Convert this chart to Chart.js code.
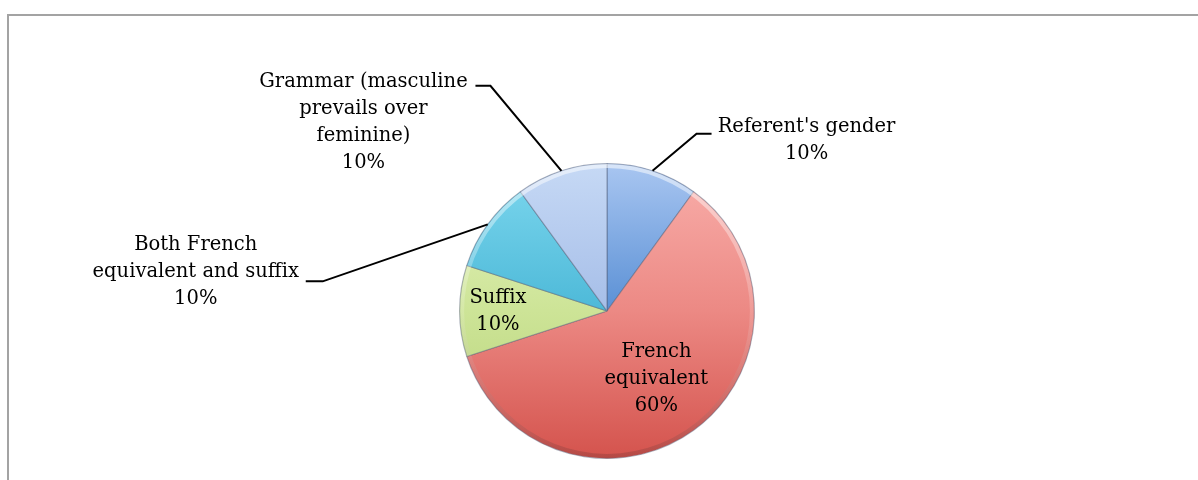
<!DOCTYPE html>
<html>
<head>
<meta charset="utf-8">
<script src="https://cdn.jsdelivr.net/npm/chart.js@4/dist/chart.umd.min.js"></script>
<style>
    body { margin: 0; background: #fff; }
    #wrap { position: relative; width: 1198px; height: 480px; overflow: hidden; }
    #frame {
        position: absolute; left: 7px; top: 14px; width: 1300px; height: 600px;
        border-top: 2px solid #a3a3a3; border-left: 2px solid #a3a3a3;
    }
    canvas { position: absolute; left: 0; top: 0; }
</style>
</head>
<body>
<div id="wrap">
    <div id="frame"></div>
    <canvas id="pieChart" width="1198" height="480"></canvas>
</div>
<script>
// slices, clockwise from 12 o'clock
const categories = [
    "Referent's gender",
    'French equivalent',
    'Suffix',
    'Both French equivalent and suffix',
    'Grammar (masculine prevails over feminine)'
];
const shares = [10, 60, 10, 10, 10];

// how each label wraps
const labelLines = [
    ["Referent's gender"],
    ['French', 'equivalent'],
    ['Suffix'],
    ['Both French', 'equivalent and suffix'],
    ['Grammar (masculine', 'prevails over', 'feminine)']
];

// gradient stops per slice (top of pie -> middle -> bottom)
const sliceColors = [
    ['#a9c6f1', '#5a90d5', '#3f78c6'],
    ['#f9afab', '#ec8984', '#d4534d'],
    ['#e6f3bf', '#cde497', '#b3d074'],
    ['#7ed8ef', '#4db9d8', '#38a4c6'],
    ['#c6d9f5', '#a6bee8', '#8faad8']
];

// label placement: inside -> fraction of radius, outside -> leader elbow + text centre (px from rim point)
const labelPlace = [
    { outside: true, elbow: [44, -37], tail: 15, text: [154, -30] },
    { outside: false, k: 0.57 },
    { outside: false, k: 0.74 },
    { outside: true, elbow: [-165, 57], tail: -17, text: [-292, 48] },
    { outside: true, elbow: [-71, -85], tail: -15, text: [-198, -48] }
];

const FONT = '19.5px "DejaVu Serif"';
const LINE_H = 27;

function sliceFill(context) {
    const chart = context.chart;
    const area = chart.chartArea;
    if (!area) return sliceColors[context.dataIndex][1];
    const stops = sliceColors[context.dataIndex];
    const g = chart.ctx.createLinearGradient(0, area.top, 0, area.bottom);
    g.addColorStop(0, stops[0]);
    g.addColorStop(0.5, stops[1]);
    g.addColorStop(1, stops[2]);
    return g;
}

const rimShade = {
    id: 'rimShade',
    afterDatasetsDraw(chart) {
        const arc = chart.getDatasetMeta(0).data[0];
        if (!arc) return;
        const { x, y, outerRadius } = arc.getProps(['x', 'y', 'outerRadius'], true);
        const ctx = chart.ctx;
        ctx.save();
        const g = ctx.createLinearGradient(0, y - outerRadius, 0, y + outerRadius);
        g.addColorStop(0, 'rgba(255,255,255,0.55)');
        g.addColorStop(0.5, 'rgba(255,255,255,0.15)');
        g.addColorStop(1, 'rgba(90,40,40,0.25)');
        ctx.strokeStyle = g;
        ctx.lineWidth = 4;
        ctx.beginPath();
        ctx.arc(x, y, outerRadius - 2.5, 0, Math.PI * 2);
        ctx.stroke();
        ctx.restore();
    }
};

const sliceLabels = {
    id: 'sliceLabels',
    afterDraw(chart) {
        const ctx = chart.ctx;
        const meta = chart.getDatasetMeta(0);
        const total = shares.reduce((a, b) => a + b, 0);

        ctx.save();
        ctx.font = FONT;
        ctx.fillStyle = '#000';
        ctx.textAlign = 'center';
        ctx.textBaseline = 'middle';

        meta.data.forEach((arc, i) => {
            const { x, y, startAngle, endAngle, outerRadius } =
                arc.getProps(['x', 'y', 'startAngle', 'endAngle', 'outerRadius'], true);
            const mid = (startAngle + endAngle) / 2;
            const lines = labelLines[i].concat(Math.round(shares[i] / total * 100) + '%');
            const place = labelPlace[i];
            let cx, cy;

            if (place.outside) {
                // rim point -> elbow -> short horizontal tail
                const ax = x + Math.cos(mid) * outerRadius;
                const ay = y + Math.sin(mid) * outerRadius;
                const ex = ax + place.elbow[0];
                const ey = ay + place.elbow[1];
                ctx.strokeStyle = '#000';
                ctx.lineWidth = 2;
                ctx.beginPath();
                ctx.moveTo(ax, ay);
                ctx.lineTo(ex, ey);
                ctx.lineTo(ex + place.tail, ey);
                ctx.stroke();
                cx = ax + place.text[0];
                cy = ay + place.text[1];
            } else {
                cx = x + Math.cos(mid) * outerRadius * place.k;
                cy = y + Math.sin(mid) * outerRadius * place.k;
            }

            const top = cy - (lines.length - 1) * LINE_H / 2;
            lines.forEach((t, j) => ctx.fillText(t, cx, top + j * LINE_H));
        });
        ctx.restore();
    }
};

const ctx = document.getElementById('pieChart').getContext('2d');
const pieChart = new Chart(ctx, {
    type: 'pie',
    data: {
        labels: categories,
        datasets: [{
            data: shares,
            backgroundColor: sliceFill,
            borderColor: 'rgba(80, 90, 115, 0.45)',
            borderWidth: 1.2
        }]
    },
    options: {
        responsive: false,
        animation: false,
        layout: { padding: { top: 163, bottom: 21, left: 16, right: 0 } },
        plugins: {
            legend: { display: false },
            tooltip: { enabled: false }
        }
    },
    plugins: [rimShade, sliceLabels]
});
</script>
</body>
</html>
